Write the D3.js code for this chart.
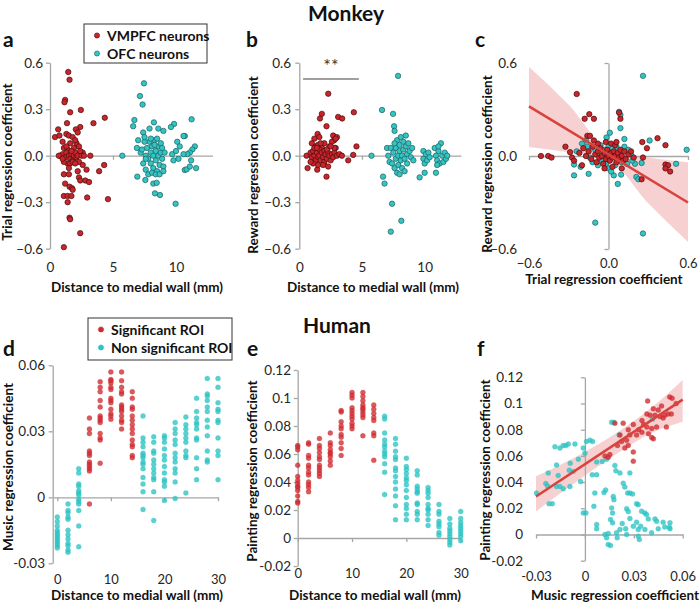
<!DOCTYPE html>
<html><head><meta charset="utf-8">
<script src="https://cdn.jsdelivr.net/npm/d3@7"></script>
<style>
body{margin:0;background:#fff;}
svg{font-family:Lato,"Open Sans",sans-serif;}
</style></head>
<body><svg id="c" width="700" height="603"></svg>
<script>
// ---------------- DATA ----------------
// Panel a: distance (mm) vs trial regression coefficient
const aVmpfc = [[1.45,0.54],[1.55,0.49],[1.2,0.36],[1.15,0.345],[2.45,0.295],[1.6,0.28],[0.65,0.17],[1.35,0.21],[3.45,0.21],[4.35,0.245],[2.4,0.185],[2.05,0.17],[0.4,0.12],[0.75,0.13],[1.3,0.14],[1.5,0.13],[1.8,0.12],[2.2,0.15],[1.0,0.09],[1.6,0.08],[2.1,0.08],[2.3,0.06],[1.1,0.05],[1.4,0.04],[1.9,0.05],[2.6,0.02],[0.8,0.0],[1.0,0.01],[1.2,-0.01],[1.3,0.02],[1.5,0.0],[1.6,-0.02],[1.7,0.01],[1.8,-0.03],[1.9,0.0],[2.0,0.02],[2.1,-0.01],[2.2,0.0],[2.3,-0.04],[2.5,0.0],[2.7,0.0],[3.2,0.0],[1.4,-0.05],[1.6,-0.05],[1.8,-0.04],[2.0,-0.05],[1.1,-0.04],[1.5,-0.08],[2.6,-0.06],[2.2,-0.1],[2.9,-0.09],[4.3,-0.06],[3.9,-0.1],[2.3,-0.14],[2.4,-0.16],[2.8,-0.16],[3.1,-0.17],[1.1,-0.12],[1.5,-0.12],[1.2,-0.18],[1.55,-0.2],[1.75,-0.21],[1.8,-0.22],[1.1,-0.26],[1.4,-0.26],[1.7,-0.26],[1.4,-0.3],[2.95,-0.27],[4.6,-0.28],[1.55,-0.4],[1.6,-0.41],[2.4,-0.5],[1.1,-0.59],[0.7,0.0],[1.0,-0.02],[1.3,0.06],[1.7,0.03],[2.0,0.1],[2.4,0.03]];
const aOfc = [[7.46,0.467],[7.14,0.385],[7.35,0.33],[6.7,0.23],[6.6,0.19],[11.24,0.235],[8.25,0.215],[9.85,0.205],[9.6,0.185],[7.4,0.15],[7.9,0.175],[8.6,0.175],[9.0,0.16],[6.9,0.05],[7.0,0.1],[10.7,0.127],[10.6,0.127],[10.1,0.09],[5.74,0.0],[6.93,-0.135],[7.57,-0.157],[8.2,-0.18],[8.47,-0.175],[8.33,-0.243],[8.73,-0.254],[9.97,-0.31],[10.7,-0.092],[10.85,-0.088],[11.1,-0.07],[11.6,-0.08],[11.5,0.06],[11.3,0.04],[11.1,0.02],[10.9,0.01],[10.6,0.01],[11.2,-0.03],[9.7,0.01],[9.8,-0.03],[10.0,0.03],[10.2,-0.02],[10.3,0.06],[7.2,0.02],[7.6,0.0],[7.7,0.05],[7.8,-0.02],[7.9,0.09],[8.0,0.02],[8.0,-0.05],[8.1,0.06],[8.2,0.0],[8.2,-0.08],[8.3,0.1],[8.4,0.03],[8.4,-0.03],[8.5,-0.1],[8.6,0.06],[8.6,0.0],[8.7,-0.06],[8.8,0.08],[8.8,0.02],[8.9,-0.02],[9.0,-0.07],[9.1,0.02],[7.5,0.09],[7.4,-0.05],[7.6,-0.09],[7.8,-0.12],[8.1,-0.11],[8.4,-0.12],[8.7,-0.12],[9.0,-0.1],[7.5,0.12],[8.0,0.11],[8.5,0.11],[7.3,0.04],[7.6,-0.02],[8.9,0.05],[8.3,0.07]];
// Panel b: distance (mm) vs reward regression coefficient
const bVmpfc = [[2.31,0.40],[1.8,0.27],[1.65,0.24],[3.1,0.25],[3.42,0.24],[4.35,0.28],[2.17,0.19],[1.46,0.14],[1.6,0.12],[2.7,0.13],[2.78,0.1],[1.2,0.11],[1.0,0.08],[1.3,0.06],[1.5,0.07],[1.8,0.05],[2.0,0.08],[2.4,0.06],[2.6,0.09],[2.9,0.05],[4.56,0.06],[0.66,-0.08],[1.43,-0.09],[2.17,-0.135],[3.9,-0.03],[4.3,0.005],[0.58,0.0],[0.9,0.02],[1.0,-0.01],[1.1,0.03],[1.2,0.0],[1.3,-0.03],[1.4,0.02],[1.5,-0.01],[1.6,0.04],[1.6,0.0],[1.7,-0.03],[1.8,0.02],[1.9,-0.01],[2.0,0.03],[2.0,-0.04],[2.1,0.01],[2.2,-0.02],[2.3,0.02],[2.4,0.0],[2.5,-0.03],[2.6,0.01],[2.7,-0.01],[2.8,0.02],[3.0,0.0],[3.2,0.01],[3.4,0.0],[1.1,-0.05],[1.5,-0.06],[1.9,-0.06],[2.3,-0.07],[1.2,0.05],[0.9,-0.04],[2.8,0.05],[3.0,0.12],[2.9,0.11],[2.2,0.04],[1.4,0.05],[1.7,0.08],[2.5,0.06]];
const bOfc = [[7.88,0.515],[6.6,0.295],[7.48,0.27],[7.56,0.19],[7.6,0.16],[5.76,0.0],[6.68,-0.135],[6.8,-0.18],[7.4,-0.31],[8.14,-0.42],[7.3,-0.49],[9.6,-0.14],[10.0,-0.11],[10.9,-0.11],[7.0,0.05],[7.1,0.0],[7.2,-0.04],[7.3,0.05],[7.4,-0.05],[7.5,0.02],[7.6,-0.08],[7.7,0.05],[7.7,-0.02],[7.8,0.1],[7.9,0.0],[7.9,-0.06],[8.0,0.07],[8.0,0.03],[8.1,-0.03],[8.1,0.12],[8.2,0.0],[8.2,-0.08],[8.3,0.09],[8.3,0.04],[8.4,-0.02],[8.4,-0.1],[8.5,0.13],[8.5,0.06],[8.6,0.01],[8.6,-0.05],[8.7,0.08],[8.8,0.03],[8.9,-0.01],[9.0,0.05],[9.1,-0.03],[7.6,0.08],[7.8,-0.11],[8.0,-0.12],[9.9,0.03],[9.9,-0.02],[10.0,-0.05],[10.1,0.01],[10.2,-0.03],[10.3,0.02],[10.4,-0.01],[10.8,0.05],[10.9,0.0],[11.0,-0.03],[11.1,0.03],[11.2,-0.05],[11.3,0.08],[11.4,0.0],[11.5,-0.04],[11.6,0.02],[11.7,-0.02],[11.1,0.06],[11.0,-0.06],[11.8,0.0]];
const bSigBar = [0.3, 4.75, 0.495];
// Panel c: trial vs reward regression coefficient
const cVmpfc = [[-0.51,0.0],[-0.455,0.0],[-0.43,-0.01],[-0.24,0.4],[-0.145,0.27],[-0.11,0.24],[-0.18,0.24],[-0.325,0.06],[-0.29,0.025],[-0.275,-0.01],[-0.26,-0.03],[-0.16,0.13],[-0.14,0.13],[0.37,0.115],[0.255,0.09],[0.29,0.05],[0.43,0.07],[0.43,-0.055],[0.45,-0.06],[0.43,-0.08],[0.465,-0.1],[0.26,-0.01],[0.25,-0.15],[0.09,0.24],[0.08,0.28],[-0.19,0.05],[-0.17,0.0],[-0.15,0.03],[-0.13,-0.02],[-0.12,0.06],[-0.1,0.01],[-0.09,-0.04],[-0.08,0.03],[-0.07,-0.01],[-0.06,0.05],[-0.05,0.0],[-0.04,-0.05],[-0.03,0.02],[-0.02,-0.02],[-0.01,0.04],[0.0,0.0],[0.01,-0.03],[0.02,0.02],[0.03,-0.01],[0.04,0.03],[0.05,0.0],[0.06,-0.04],[0.07,0.02],[0.08,-0.01],[0.09,0.04],[0.1,0.0],[0.11,-0.03],[0.12,0.03],[0.13,-0.02],[0.15,0.01],[0.17,0.03],[0.19,-0.01],[-0.02,0.09],[0.02,0.08],[-0.08,0.08],[0.05,0.07],[-0.03,-0.08],[0.03,-0.07],[0.1,-0.08],[-0.2,-0.06],[-0.22,0.02],[0.06,0.09],[-0.11,0.1]];
const cOfc = [[0.26,0.517],[0.08,0.285],[0.09,0.265],[0.09,0.18],[0.12,0.11],[-0.015,0.12],[0.01,0.15],[0.31,0.1],[0.59,0.04],[0.51,-0.05],[-0.26,-0.125],[-0.15,-0.115],[-0.1,-0.43],[0.26,-0.5],[0.07,-0.18],[0.21,-0.135],[0.225,-0.15],[0.04,-0.125],[0.095,-0.12],[-0.21,-0.07],[-0.26,-0.055],[-0.24,0.03],[0.2,-0.05],[0.25,-0.045],[-0.17,0.1],[-0.16,0.06],[-0.06,0.07],[-0.03,0.04],[0.0,0.06],[0.03,0.05],[0.06,0.06],[0.15,0.04],[0.17,0.01],[0.18,-0.03],[0.14,-0.05],[0.1,-0.04],[0.05,-0.06],[0.0,-0.08],[-0.02,-0.05],[-0.05,-0.03],[-0.08,-0.06],[-0.12,-0.04],[-0.1,0.04],[0.02,-0.1],[0.0,-0.02],[0.08,0.02],[-0.04,0.01],[0.12,0.06],[-0.2,0.08],[-0.14,-0.01]];
const cFitLine = [[-0.6,0.32],[0.6,-0.30]];
const cBandX  = [-0.6, -0.3, 0.0, 0.3, 0.6];
const cBandHi = [0.575, 0.33, 0.04, -0.01, -0.04];
const cBandLo = [0.058, 0.024, -0.025, -0.305, -0.555];

// Panel d: distance (mm) vs music regression coefficient, one column per distance
const dDistances = [0,2,4,6,8,10,12,14,16,18,20,22,24,26,28,30];
const dSignificant = [0,0,0,1,1,1,1,1,0,0,0,0,0,0,0,0];
const dMusic = [
 [-0.009,-0.011,-0.013,-0.015,-0.016,-0.017,-0.018,-0.019,-0.02,-0.021,-0.022,-0.023],
 [-0.003,-0.006,-0.007,-0.009,-0.010,-0.015,-0.017,-0.019,-0.021,-0.022,-0.024,-0.025],
 [0.013,0.011,0.006,0.005,0.003,0.002,0.001,-0.001,-0.002,-0.003,-0.006,-0.013,-0.0225],
 [0.036,0.031,0.029,0.021,0.020,0.019,0.016,0.015,0.014,0.013,0.012,-0.003],
 [0.0525,0.050,0.048,0.044,0.041,0.037,0.036,0.035,0.034,0.029,0.027,0.026,0.0155],
 [0.057,0.0535,0.053,0.052,0.050,0.049,0.045,0.044,0.043,0.040,0.038,0.037,0.0355],
 [0.057,0.053,0.050,0.048,0.047,0.042,0.041,0.040,0.039,0.037,0.035,0.034,0.031],
 [0.048,0.045,0.041,0.040,0.037,0.035,0.033,0.031,0.029,0.026,0.024,0.023,0.019,0.018],
 [0.037,0.027,0.025,0.023,0.020,0.019,0.018,0.016,0.015,0.013,0.009,0.006,0.0025,-0.0055],
 [0.0275,0.025,0.021,0.020,0.017,0.015,0.013,0.011,0.009,0.008,0.0025,-0.0105],
 [0.028,0.027,0.025,0.022,0.019,0.017,0.014,0.011,0.008,0.007,0.005,-0.0015],
 [0.034,0.031,0.029,0.026,0.024,0.020,0.018,0.016,0.013,0.011,0.007,-0.0005],
 [0.0365,0.033,0.031,0.029,0.027,0.025,0.021,0.019,0.018,0.002],
 [0.045,0.039,0.036,0.034,0.033,0.031,0.027,0.026,0.018,0.013,0.008],
 [0.054,0.047,0.046,0.044,0.041,0.039,0.035,0.032,0.028,0.021,0.017,0.016],
 [0.054,0.050,0.043,0.040,0.039,0.035,0.034,0.027,0.021,0.019,0.008]
];
// Panel e: distance (mm) vs painting regression coefficient
const eDistances = [0,2,4,6,8,10,12,14,16,18,20,22,24,26,28,30];
const eSignificant = [1,1,1,1,1,1,1,1,0,0,0,0,0,0,0,0];
const ePainting = [
 [0.066,0.065,0.063,0.052,0.044,0.041,0.039,0.037,0.036,0.034,0.030,0.026,0.025],
 [0.068,0.067,0.059,0.057,0.052,0.050,0.047,0.045,0.040,0.038,0.036,0.033],
 [0.071,0.066,0.064,0.061,0.058,0.056,0.052,0.050,0.048,0.046,0.044],
 [0.075,0.068,0.066,0.063,0.061,0.060,0.058,0.055,0.052],
 [0.091,0.090,0.083,0.080,0.078,0.074,0.072,0.068,0.064,0.059],
 [0.104,0.102,0.100,0.093,0.091,0.089,0.087,0.085,0.082,0.080,0.078],
 [0.104,0.101,0.098,0.095,0.093,0.092,0.090,0.088,0.086,0.073],
 [0.095,0.092,0.089,0.086,0.084,0.075,0.073,0.0555],
 [0.087,0.085,0.075,0.070,0.067,0.065,0.062,0.060,0.058,0.053,0.047,0.031],
 [0.071,0.067,0.062,0.058,0.056,0.050,0.048,0.044,0.040,0.035,0.030,0.023,0.013],
 [0.057,0.051,0.049,0.046,0.043,0.041,0.038,0.034,0.029,0.024,0.021,0.017,0.013],
 [0.048,0.045,0.037,0.035,0.033,0.032,0.025,0.024,0.019,0.017,0.013],
 [0.036,0.034,0.032,0.029,0.024,0.021,0.020,0.017,0.013,0.009],
 [0.024,0.019,0.017,0.012,0.010,0.008,0.004,0.002],
 [0.014,0.010,0.007,0.005,0.003,0.001,-0.001,-0.003,-0.005],
 [0.019,0.014,0.011,0.009,0.007,0.005,0.003,0.001,-0.002]
];
// Panel f: music vs painting regression coefficient
const fSig = [[0.0385,0.102],[0.052,0.105],[0.0535,0.104],[0.056,0.1],[0.042,0.096],[0.045,0.095],[0.047,0.098],[0.038,0.092],[0.04,0.091],[0.043,0.091],[0.046,0.09],[0.049,0.091],[0.051,0.092],[0.053,0.092],[0.048,0.089],[0.0297,0.084],[0.035,0.087],[0.036,0.084],[0.038,0.082],[0.041,0.081],[0.044,0.082],[0.033,0.08],[0.035,0.078],[0.039,0.077],[0.041,0.074],[0.042,0.073],[0.05,0.082],[0.0235,0.085],[0.0184,0.085],[0.0215,0.076],[0.0225,0.071],[0.0256,0.072],[0.0266,0.068],[0.0297,0.063],[0.0297,0.056],[0.02,0.068],[0.0245,0.066],[0.0123,0.06],[0.0143,0.059],[0.0153,0.061],[0.0276,0.076],[0.0317,0.076],[0.0266,0.08]];
const fNon = [[0.0164,0.0856],[0.0178,0.0856],[0.0415,0.088],[0.021,0.076],[-0.0184,0.067],[-0.0153,0.066],[-0.0133,0.068],[-0.0117,0.068],[-0.0102,0.069],[-0.0061,0.069],[0.001,0.071],[0.0031,0.072],[0.0047,0.071],[-0.001,0.066],[0.0,0.062],[-0.004,0.0575],[-0.009,0.0544],[-0.0174,0.053],[-0.0225,0.047],[-0.0164,0.045],[-0.0096,0.049],[-0.0072,0.048],[-0.024,0.039],[-0.0229,0.037],[-0.0297,0.0316],[-0.022,0.0235],[-0.02,0.0235],[-0.0174,0.0367],[-0.0153,0.0367],[-0.0133,0.035],[-0.0092,0.0367],[-0.0027,0.0405],[-0.001,0.0165],[0.0006,0.0165],[0.0045,0.0456],[0.0072,0.0456],[0.0072,0.0554],[0.0061,0.0316],[0.0055,0.0215],[0.0072,0.0076],[0.0072,0.0043],[0.0106,0.0557],[0.0133,0.0575],[0.0117,0.032],[0.0127,0.034],[0.0123,0.0],[0.0143,0.0008],[0.0133,-0.0025],[0.0143,-0.0076],[0.0157,-0.0084],[0.0157,0.0114],[0.017,0.0089],[0.0174,0.029],[0.0178,0.0266],[0.0164,0.0203],[0.017,0.0165],[0.0184,0.0527],[0.019,0.0486],[0.0194,0.0013],[0.0198,-0.0025],[0.0215,0.0038],[0.0229,0.0084],[0.0235,0.0392],[0.0245,0.0362],[0.0262,0.0316],[0.0276,0.0316],[0.0292,0.0309],[0.0215,0.047],[0.0276,0.047],[0.0256,0.0197],[0.0266,0.0175],[0.0276,0.0122],[0.0256,0.0],[0.025,0.0043],[0.0297,0.0063],[0.0317,0.0094],[0.0327,0.0038],[0.0327,-0.0013],[0.0334,-0.0038],[0.0317,0.0235],[0.0327,0.0228],[0.0348,0.0177],[0.0368,0.0165],[0.0378,0.0152],[0.0342,0.0063],[0.0368,0.0038],[0.0409,0.0013],[0.0389,0.0119],[0.043,0.0119],[0.044,0.0101],[0.045,0.0043],[0.048,0.0094],[0.0522,0.0089],[0.0518,0.0056],[0.0522,0.0043],[0.049,0.0058]];
const fFitLine = [[-0.03,0.029],[0.06,0.103]];
const fBandX  = [-0.03, 0.0, 0.02, 0.04, 0.06];
const fBandHi = [0.0444, 0.063, 0.078, 0.096, 0.118];
const fBandLo = [0.0177, 0.045, 0.062, 0.077, 0.086];

// Tick labels
const monkeyDistTicks = [0,5,10];
const monkeyCoefTicks = [0.6,0.3,0.0,-0.3,-0.6];
const cTicks = [-0.6,0.0,0.6];
const humanDistTicks = [0,10,20,30];
const musicTicks = [0.06,0.03,0,-0.03];
const paintingTicks = [0.12,0.1,0.08,0.06,0.04,0.02,0,-0.02];
const fMusicTicks = [-0.03,0,0.03,0.06];

// ---------------- DRAWING ----------------
const svg = d3.select('#c');
const AXIS = '#a6a6a6', TXT = '#262626';
const RED = '#c8262c', RED_S = '#4a0c0c', CYAN = '#33c4c4', CYAN_S = '#1d5f5f';
const HRED = '#cf2a30', HCYAN = '#2cc3c3';
const TICK_FS = 13.5, TITLE_FS = 13.5;
const fmt1 = d3.format('.1f');
const fmtG = d => d === 0 ? '0' : String(+d.toFixed(3));

function panel(o){
  const g = svg.append('g');
  const x = d3.scaleLinear().domain(o.xd).range(o.xr);
  const y = d3.scaleLinear().domain(o.yd).range(o.yr);
  o.x = x; o.y = y; o.g = g;
  return o;
}
function drawAxes(p, o){
  const {x,y,g} = p;
  const fs = o.fs || TICK_FS;
  const va = g.append('g').attr('transform',`translate(${x(o.vAt)},0)`)
    .call(d3.axisLeft(y).tickValues(o.yTicks).tickSize(4).tickSizeOuter(0).tickFormat(''));
  va.selectAll('path,line').attr('stroke',AXIS).attr('stroke-width',1.3);
  const ha = g.append('g').attr('transform',`translate(0,${y(o.hAt)})`)
    .call(d3.axisBottom(x).tickValues(o.xTicks).tickSize(4).tickSizeOuter(0).tickFormat(''));
  ha.selectAll('path,line').attr('stroke',AXIS).attr('stroke-width',1.3);
  const yl = g.append('g').attr('transform',`translate(${o.yLabX},0)`)
    .call(d3.axisLeft(y).tickValues(o.yTicks).tickSize(0).tickPadding(0).tickFormat(o.yFmt));
  yl.select('.domain').remove();
  yl.selectAll('text').attr('fill',TXT).style('font-size',TICK_FS+'px').style('font-family','Lato');
  const xl = g.append('g').attr('transform',`translate(0,${o.xLabY})`)
    .call(d3.axisBottom(x).tickValues(o.xTicks).tickSize(0).tickPadding(0).tickFormat(o.xFmt));
  xl.select('.domain').remove();
  xl.selectAll('text').attr('fill',TXT).attr('dy','0.35em').attr('y',0).style('font-size',fs+'px').style('font-family','Lato');
}
function monkeyDots(p, data, fill, stroke){
  p.g.append('g').selectAll('circle').data(data).join('circle')
    .attr('cx',d=>p.x(d[0])).attr('cy',d=>p.y(d[1])).attr('r',2.7)
    .attr('fill',fill).attr('stroke',stroke).attr('stroke-width',0.7);
}
function humanDots(p, data, fill){
  p.g.append('g').selectAll('circle').data(data).join('circle')
    .attr('cx',d=>p.x(d[0])).attr('cy',d=>p.y(d[1])).attr('r',2.5)
    .attr('fill',fill).attr('fill-opacity',0.78).attr('stroke',fill).attr('stroke-opacity',0.5).attr('stroke-width',0.5);
}
function band(p, bx, hi, lo){
  const pts = bx.map((v,i)=>({x:v,hi:hi[i],lo:lo[i]}));
  p.g.append('path').datum(pts)
    .attr('d', d3.area().curve(d3.curveMonotoneX).x(d=>p.x(d.x)).y0(d=>p.y(d.lo)).y1(d=>p.y(d.hi)))
    .attr('fill','#f6c9c9').attr('fill-opacity',0.85);
}
function fitLine(p, pts){
  p.g.append('path').datum(pts)
    .attr('d', d3.line().x(d=>p.x(d[0])).y(d=>p.y(d[1])))
    .attr('stroke','#d8433d').attr('stroke-width',2.6).attr('fill','none');
}
function text(x,y,s,opt={}){
  const t = svg.append('text').attr('x',x).attr('y',y).text(s)
    .attr('fill',opt.fill||'#111').style('font-size',(opt.size||TITLE_FS)+'px')
    .style('font-weight',opt.weight||'bold').attr('text-anchor',opt.anchor||'middle');
  if(opt.rot) t.attr('transform',`rotate(-90,${x},${y})`).attr('dominant-baseline','central');
  return t;
}
function column(dist, vals, sig, want){
  const out = [];
  dist.forEach((d,i)=>{ if(sig[i]===want) vals[i].forEach(v=>out.push([d,v])); });
  return out;
}

// ---- Panel a
const pa = panel({xd:[0,12.9], xr:[50,212.5], yd:[-0.6,0.6], yr:[248.7,62.7]});
drawAxes(pa,{vAt:0,hAt:0,yTicks:monkeyCoefTicks,xTicks:monkeyDistTicks,yLabX:43,xLabY:267,yFmt:fmt1,xFmt:d3.format('d')});
monkeyDots(pa,aVmpfc,RED,RED_S); monkeyDots(pa,aOfc,CYAN,CYAN_S);
// ---- Panel b
const pb = panel({xd:[0,12.9], xr:[299.3,461], yd:[-0.6,0.6], yr:[248.7,62.7]});
drawAxes(pb,{vAt:0,hAt:0,yTicks:monkeyCoefTicks,xTicks:monkeyDistTicks,yLabX:291,xLabY:267,yFmt:fmt1,xFmt:d3.format('d')});
monkeyDots(pb,bVmpfc,RED,RED_S); monkeyDots(pb,bOfc,CYAN,CYAN_S);
pb.g.append('line').attr('x1',pb.x(bSigBar[0])).attr('x2',pb.x(bSigBar[1]))
  .attr('y1',pb.y(bSigBar[2])).attr('y2',pb.y(bSigBar[2])).attr('stroke','#7f7f7f').attr('stroke-width',1.6);
text((pb.x(bSigBar[0])+pb.x(bSigBar[1]))/2, 72, '**', {size:18, weight:'normal', fill:'#333'});
// ---- Panel c
const pc = panel({xd:[-0.6,0.6], xr:[529,688], yd:[-0.6,0.6], yr:[249,63]});
band(pc,cBandX,cBandHi,cBandLo);
drawAxes(pc,{vAt:0,hAt:0,yTicks:cTicks,xTicks:cTicks,yLabX:517,xLabY:263,fs:13,yFmt:fmt1,xFmt:fmt1});
monkeyDots(pc,cOfc,CYAN,CYAN_S); monkeyDots(pc,cVmpfc,RED,RED_S);
fitLine(pc,cFitLine);
// ---- Panel d
const pd = panel({xd:[-0.86,30], xr:[52.7,218], yd:[-0.03,0.06], yr:[563.3,365.3]});
drawAxes(pd,{vAt:-0.86,hAt:0,yTicks:musicTicks,xTicks:humanDistTicks,yLabX:45,xLabY:579,fs:13,yFmt:fmtG,xFmt:d3.format('d')});
humanDots(pd,column(dDistances,dMusic,dSignificant,0),HCYAN);
humanDots(pd,column(dDistances,dMusic,dSignificant,1),HRED);
// ---- Panel e
const pe = panel({xd:[0,30], xr:[297.7,460.7], yd:[-0.02,0.12], yr:[566,370]});
drawAxes(pe,{vAt:0,hAt:0,yTicks:paintingTicks,xTicks:humanDistTicks,yLabX:291,xLabY:573,fs:13,yFmt:fmtG,xFmt:d3.format('d')});
humanDots(pe,column(eDistances,ePainting,eSignificant,0),HCYAN);
humanDots(pe,column(eDistances,ePainting,eSignificant,1),HRED);
// ---- Panel f
const pf = panel({xd:[-0.03,0.06], xr:[536,682.7], yd:[-0.02,0.12], yr:[560.7,377.3]});
band(pf,fBandX,fBandHi,fBandLo);
drawAxes(pf,{vAt:0,hAt:0,yTicks:paintingTicks,xTicks:fMusicTicks,yLabX:523,xLabY:576,fs:13,yFmt:fmtG,xFmt:fmtG});
humanDots(pf,fNon,HCYAN); humanDots(pf,fSig,HRED);
fitLine(pf,fFitLine);

// ---- Titles, letters, axis titles
text(346,21,'Monkey',{size:21});
text(337,333,'Human',{size:21});
[['a',3,47],['b',246,47],['c',475,47],['d',3,356],['e',247,356],['f',477,356]].forEach(l=>text(l[1],l[2],l[0],{size:21,anchor:'start'}));
text(7,162,'Trial regression coefficient',{rot:true});
text(253,165,'Reward regression coefficient',{rot:true});
text(487,164,'Reward regression coefficient',{rot:true});
text(8,467,'Music regression coefficient',{rot:true});
text(252,471,'Painting regression coefficient',{rot:true});
text(485,470,'Painting regression coefficient',{rot:true});
text(137,292,'Distance to medial wall (mm)');
text(373,292,'Distance to medial wall (mm)');
text(604,284,'Trial regression coefficient');
text(137,600,'Distance to medial wall (mm)');
text(375,600,'Distance to medial wall (mm)');
text(615,600,'Music regression coefficient');

// ---- Legends
function legend(x0,y0,w,h,items){
  svg.append('rect').attr('x',x0).attr('y',y0).attr('width',w).attr('height',h)
    .attr('fill','#fff').attr('stroke','#333').attr('stroke-width',1);
  items.forEach((it,i)=>{
    const cy = y0 + 11.5 + i*18;
    svg.append('circle').attr('cx',x0+13).attr('cy',cy).attr('r',2.6).attr('fill',it.c).attr('stroke',it.s).attr('stroke-width',0.6);
    text(x0+23, cy+5, it.t, {anchor:'start', size:14});
  });
}
legend(84,24,123,39,[{t:'VMPFC neurons',c:RED,s:RED_S},{t:'OFC neurons',c:CYAN,s:CYAN_S}]);
legend(88,318,144,42,[{t:'Significant ROI',c:HRED,s:HRED},{t:'Non significant ROI',c:HCYAN,s:HCYAN}]);
</script></body></html>
